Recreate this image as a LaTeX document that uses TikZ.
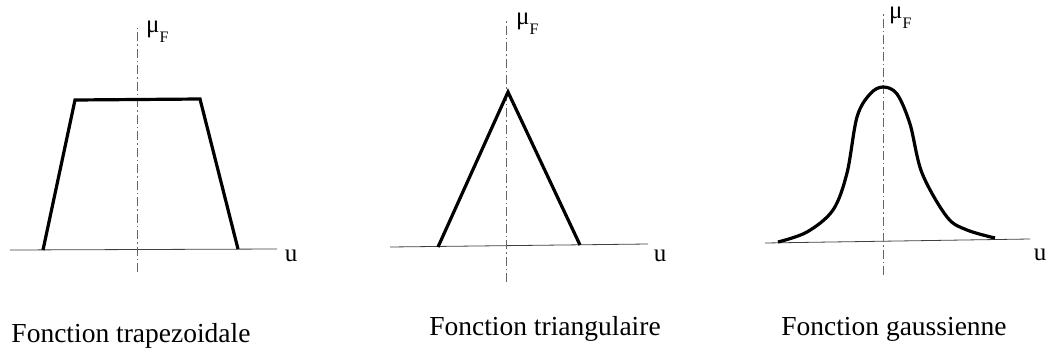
\documentclass[tikz,border=0pt]{standalone}
\usepackage{fontspec}
\setmainfont{Liberation Serif}
\usepackage{tikz}

\newcommand{\muF}{μ\raisebox{-0.4em}{\fontsize{16}{16}\selectfont F}}

\begin{document}
\begin{tikzpicture}[x=1pt, y=-1pt,
        curve/.style={line width=3.2pt, line join=miter, black},
        haxis/.style={line width=0.8pt, black!75},
        vaxis/.style={line width=0.8pt, black!60, dash pattern=on 9pt off 3pt on 1.5pt off 3pt},
        axlabel/.style={inner sep=0pt, font=\fontsize{25}{25}\selectfont},
        mulabel/.style={inner sep=0pt, anchor=base west, font=\fontsize{25}{25}\selectfont},
        caption/.style={inner sep=0pt, font=\fontsize{27.5}{30}\selectfont}
    ]
    \useasboundingbox (0,0) rectangle (1053,354);

    % trapezoidale
    \coordinate (ta) at (10,250);
    \coordinate (tb) at (277,249);
    \coordinate (tv0) at (137,272);
    \coordinate (tv1) at (137,26);
    \draw[haxis] (ta) -- (tb);
    \draw[vaxis] (tv0) -- (tv1);
    \draw[curve] (43,250) -- (75,100) -- (200,99) -- (238,249);
    \node[mulabel] (tmu) at (146,32) {\muF};
    \node[axlabel] (tu) at (291,256) {u};
    \node[caption] (tcap) at (131,336) {Fonction trapezoidale};

    % triangulaire
    \coordinate (ra) at (390,247);
    \coordinate (rb) at (648,244);
    \coordinate (rv0) at (506,282);
    \coordinate (rv1) at (506,20);
    \draw[haxis] (ra) -- (rb);
    \draw[vaxis] (rv0) -- (rv1);
    \draw[curve] (438,247) -- (508,92) -- (580,245);
    \node[mulabel] (rmu) at (516,24) {\muF};
    \node[axlabel] (ru) at (660,256) {u};
    \node[caption] (rcap) at (545,329) {Fonction triangulaire};

    % gaussienne
    \coordinate (ga) at (765,243);
    \coordinate (gb) at (1030,239);
    \coordinate (gv0) at (883,275);
    \coordinate (gv1) at (883,14);
    \draw[haxis] (ga) -- (gb);
    \draw[vaxis] (gv0) -- (gv1);
    \draw[curve] plot[smooth, tension=0.55] coordinates {(778,242) (807,232) (833,210) (847,173) (857,117) (870,94) (883,87) (897,94) (910,124) (922,173) (947,217) (967,230) (995,238)};
    \node[mulabel] (gmu) at (889,18) {\muF};
    \node[axlabel] (gu) at (1040,255) {u};
    \node[caption] (gcap) at (894,329) {Fonction gaussienne};
\end{tikzpicture}
\end{document}
